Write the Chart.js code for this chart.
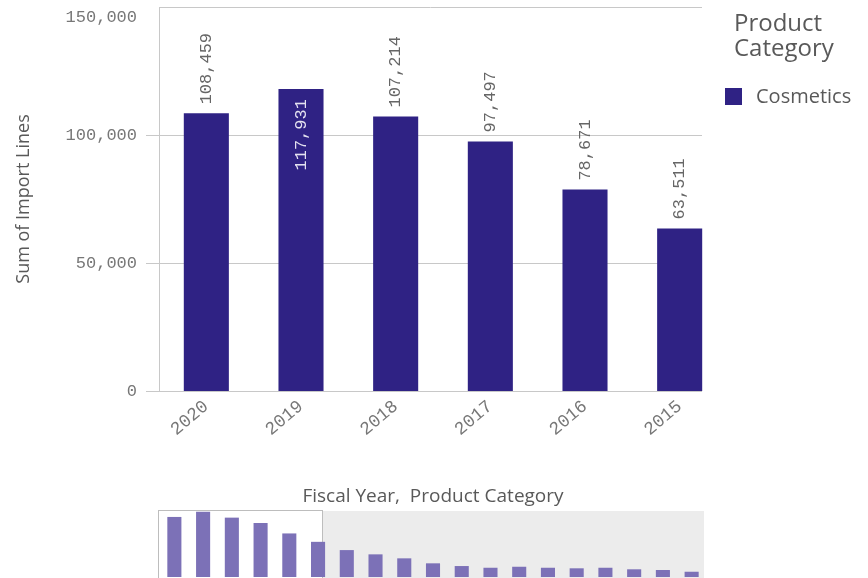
<!DOCTYPE html>
<html>
<head>
<meta charset="utf-8">
<script src="https://cdn.jsdelivr.net/npm/chart.js@4.4.1/dist/chart.umd.min.js"></script>
<style>
  html, body { margin: 0; padding: 0; background: #ffffff; }
  body { width: 868px; height: 578px; position: relative; overflow: hidden; }
  #main { position: absolute; left: 0; top: 0; }
  #overview { position: absolute; left: 0; top: 482px; }
</style>
</head>
<body>
<canvas id="main" width="868" height="482"></canvas>
<canvas id="overview" width="868" height="96"></canvas>
<script>
// Fiscal years shown in the main chart and their import line totals
const fiscalYears = ['2020', '2019', '2018', '2017', '2016', '2015'];
const cosmeticsImportLines = [108459, 117931, 107214, 97497, 78671, 63511];

// Older fiscal years, only visible in the overview strip below the chart
const earlierFiscalYears = ['2014', '2013', '2012', '2011', '2010', '2009', '2008',
                            '2007', '2006', '2005', '2004', '2003', '2002'];
const earlierImportLines = [48600, 40900, 33700, 24700, 19800, 16700, 18500,
                            16700, 15700, 16700, 13900, 12600, 9500];

const seriesName = 'Cosmetics';
const legendTitleLines = ['Product', 'Category'];
const yAxisTitle = 'Sum of Import Lines';
const xAxisTitle = 'Fiscal Year,  Product Category';
const yAxisMax = 150000;
const yAxisStep = 50000;

const MONO = '"Liberation Mono", "DejaVu Sans Mono", monospace';
const SANS = '"Open Sans", "Noto Sans", sans-serif';
const BAR_COLOR = '#2f2284';
const OVERVIEW_COLOR = '#7c71b7';
const TEXT_COLOR = '#595959';
const TICK_COLOR = '#777777';
const LINE_COLOR = '#c8c8c8';

const fmt = v => v.toLocaleString('en-US');

// Horizontal grid lines, the left axis line and the value axis labels.
// Lines stop at the last bar's right edge; the top label is kept inside the plot.
const axisLines = {
  id: 'axisLines',
  beforeDatasetsDraw(chart) {
    const { ctx, chartArea, scales: { y } } = chart;
    const bars = chart.getDatasetMeta(0).data;
    const last = bars[bars.length - 1];
    const right = Math.round(last.x + last.width / 2);
    const left = Math.round(chartArea.left);
    ctx.save();
    ctx.lineWidth = 1;
    ctx.strokeStyle = LINE_COLOR;
    y.ticks.forEach(t => {
      const py = Math.round(y.getPixelForValue(t.value)) + 0.5;
      const start = t.value === yAxisMax ? left : left - 13;
      ctx.beginPath();
      ctx.moveTo(start, py);
      ctx.lineTo(right, py);
      ctx.stroke();
    });
    ctx.beginPath();
    ctx.moveTo(left + 0.5, Math.round(y.getPixelForValue(yAxisMax)));
    ctx.lineTo(left + 0.5, Math.round(y.getPixelForValue(0)));
    ctx.stroke();

    ctx.fillStyle = TICK_COLOR;
    ctx.font = '17px ' + MONO;
    ctx.textAlign = 'right';
    ctx.textBaseline = 'middle';
    y.ticks.forEach(t => {
      const py = Math.max(y.getPixelForValue(t.value), chartArea.top + 10.5);
      ctx.fillText(fmt(t.value), left - 22, py);
    });
    ctx.restore();
  }
};

// Vertical value labels: above the bar, or inside it when there is no room above
const valueLabels = {
  id: 'valueLabels',
  afterDatasetsDraw(chart) {
    const { ctx, chartArea } = chart;
    const values = chart.data.datasets[0].data;
    ctx.save();
    ctx.font = '17px ' + MONO;
    chart.getDatasetMeta(0).data.forEach((bar, i) => {
      const text = fmt(values[i]);
      const w = ctx.measureText(text).width;
      ctx.save();
      ctx.translate(bar.x, bar.y);
      ctx.rotate(-Math.PI / 2);
      ctx.textBaseline = 'middle';
      if (bar.y - 9 - w < chartArea.top + 12) {
        ctx.fillStyle = '#e4e2f0';
        ctx.textAlign = 'right';
        ctx.fillText(text, -10, 0);
      } else {
        ctx.fillStyle = '#666666';
        ctx.textAlign = 'left';
        ctx.fillText(text, 9, 0);
      }
      ctx.restore();
    });
    ctx.restore();
  }
};

// Legend on the right: two-line title, colour swatch and series name
const sideLegend = {
  id: 'sideLegend',
  afterDraw(chart) {
    const { ctx } = chart;
    const ds = chart.data.datasets[0];
    ctx.save();
    ctx.fillStyle = TEXT_COLOR;
    ctx.textAlign = 'left';
    ctx.textBaseline = 'alphabetic';
    ctx.font = '24px ' + SANS;
    legendTitleLines.forEach((line, k) => ctx.fillText(line, 734, 31 + k * 25));
    ctx.fillStyle = ds.backgroundColor;
    ctx.fillRect(725, 88, 17, 17);
    ctx.fillStyle = TEXT_COLOR;
    ctx.font = '20px ' + SANS;
    ctx.textBaseline = 'middle';
    ctx.fillText(ds.label, 756, 97);
    ctx.restore();
  }
};

new Chart(document.getElementById('main'), {
  type: 'bar',
  data: {
    labels: fiscalYears,
    datasets: [{
      label: seriesName,
      data: cosmeticsImportLines,
      backgroundColor: BAR_COLOR,
      barPercentage: 0.476,
      categoryPercentage: 1
    }]
  },
  options: {
    responsive: false,
    animation: false,
    devicePixelRatio: 1,
    layout: { padding: { top: 7, right: 141, left: 0, bottom: 0 } },
    plugins: { legend: { display: false }, tooltip: { enabled: false } },
    scales: {
      x: {
        grid: { display: false, drawTicks: false },
        border: { display: false },
        ticks: {
          minRotation: 40, maxRotation: 40,
          color: TICK_COLOR,
          font: { family: MONO, size: 18 },
          padding: 5
        },
        afterFit(s) {
          s.height = 91;
          s.paddingLeft = 0;
          s.paddingRight = 0;
        }
      },
      y: {
        min: 0, max: yAxisMax,
        grid: { display: false, drawTicks: false },
        border: { display: false },
        ticks: {
          display: false,
          stepSize: yAxisStep
        },
        title: {
          display: true, text: yAxisTitle, color: TEXT_COLOR,
          font: { family: SANS, size: 18, lineHeight: 1.2 },
          padding: { top: 13, bottom: 0 }
        },
        afterFit(s) {
          s.width = 159;
          s.paddingTop = 0;
          s.paddingBottom = 0;
        }
      }
    }
  },
  plugins: [axisLines, valueLabels, sideLegend]
});

// Overview strip: shaded area outside the visible window, white framed window over it
const overviewWindow = {
  id: 'overviewWindow',
  beforeDatasetsDraw(chart) {
    const { ctx, chartArea, scales: { x } } = chart;
    const cat = (chartArea.right - chartArea.left) / chart.data.labels.length;
    const winLeft = Math.round(chartArea.left) - 2;
    const winRight = Math.round(x.getPixelForValue(fiscalYears.length - 1) + cat * 0.12);
    const shadeRight = Math.round(chartArea.right) - 2;
    ctx.save();
    ctx.fillStyle = '#ececec';
    ctx.fillRect(winRight, Math.round(chartArea.top) + 1, shadeRight - winRight, chart.height);
    ctx.strokeStyle = '#bdbdbd';
    ctx.lineWidth = 1;
    ctx.strokeRect(winLeft + 0.5, Math.round(chartArea.top) + 0.5, winRight - winLeft, chart.height);
    ctx.restore();
  }
};

new Chart(document.getElementById('overview'), {
  type: 'bar',
  data: {
    labels: fiscalYears.concat(earlierFiscalYears),
    datasets: [{
      label: seriesName,
      data: cosmeticsImportLines.concat(earlierImportLines),
      backgroundColor: OVERVIEW_COLOR,
      barPercentage: 0.49,
      categoryPercentage: 1
    }]
  },
  options: {
    responsive: false,
    animation: false,
    devicePixelRatio: 1,
    layout: { padding: { left: 160, right: 162, top: 0, bottom: 1 } },
    plugins: {
      legend: { display: false },
      tooltip: { enabled: false },
      title: {
        display: true, text: xAxisTitle, color: TEXT_COLOR,
        font: { family: SANS, size: 19, weight: 'normal', lineHeight: 1.0 },
        padding: { top: 5, bottom: 4 }
      }
    },
    scales: {
      x: { display: false },
      y: { display: false, min: 0, max: 121000 }
    }
  },
  plugins: [overviewWindow]
});
</script>
</body>
</html>
